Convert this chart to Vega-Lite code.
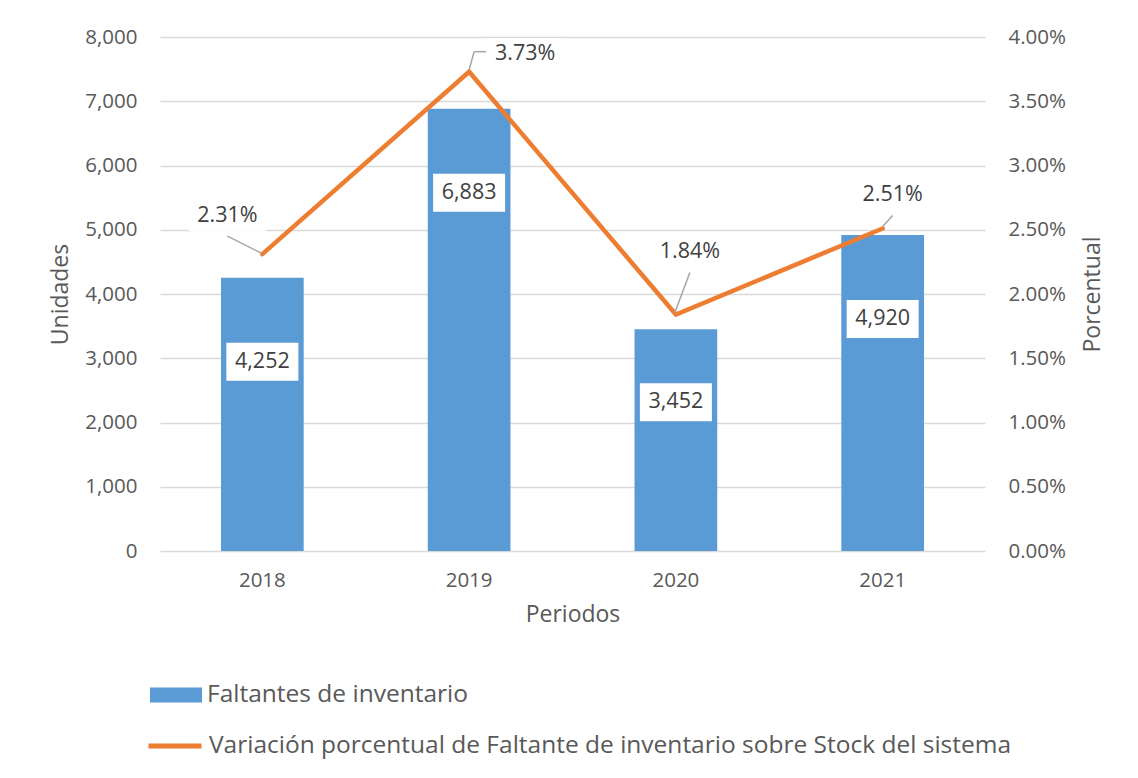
{
  "$schema": "https://vega.github.io/schema/vega-lite/v6.json",
  "autosize": {"type": "none"},
  "width": 825,
  "height": 514,
  "padding": {"left": 160, "top": 37, "right": 153, "bottom": 227},
  "background": "white",
  "config": {
    "view": {"stroke": null},
    "font": "Open Sans",
    "axis": {
      "labelFont": "Open Sans",
      "labelFontSize": 20.5,
      "labelColor": "#595959",
      "titleFont": "Open Sans",
      "titleFontSize": 23,
      "titleFontWeight": "normal",
      "titleColor": "#595959",
      "ticks": false,
      "domain": false,
      "gridColor": "#d9d9d9",
      "gridWidth": 1.5
    },
    "legend": {
      "labelFont": "Open Sans",
      "labelFontSize": 24.5,
      "labelColor": "#595959",
      "labelLimit": 1200,
      "padding": 0,
      "labelOffset": 5
    }
  },
  "data": {
    "values": [
      {"anio": "2018", "unidades": 4252, "pct": 0.0231},
      {"anio": "2019", "unidades": 6883, "pct": 0.0373},
      {"anio": "2020", "unidades": 3452, "pct": 0.0184},
      {"anio": "2021", "unidades": 4920, "pct": 0.0251}
    ]
  },
  "encoding": {
    "x": {
      "field": "anio",
      "type": "nominal",
      "scale": {"paddingInner": 0.6, "paddingOuter": 0.295},
      "axis": {"title": "Periodos", "labelAngle": 0, "labelPadding": 19, "titlePadding": 13, "grid": false}
    }
  },
  "layer": [
    {
      "encoding": {
        "y": {
          "field": "unidades",
          "type": "quantitative",
          "scale": {"domain": [0, 8000]},
          "axis": {"title": "Unidades", "orient": "left", "values": [0, 1000, 2000, 3000, 4000, 5000, 6000, 7000, 8000], "format": ",.0f", "labelPadding": 23, "titlePadding": 12, "grid": true}
        }
      },
      "layer": [
        {
          "mark": {"type": "bar"},
          "encoding": {
            "fill": {
              "datum": "Faltantes de inventario",
              "type": "nominal",
              "scale": {"range": ["#5B9BD5"]},
              "legend": {
                "title": null,
                "orient": "none",
                "legendX": -10,
                "legendY": 632,
                "symbolType": "M-1,-0.29L1,-0.29L1,0.29L-1,0.29Z",
                "symbolSize": 2704,
                "symbolStrokeWidth": 0
              }
            }
          }
        },
        {
          "transform": [{"filter": "datum.anio != '2020'"}],
          "layer": [
            {
              "mark": {"type": "point", "shape": "M-1,-0.528L1,-0.528L1,0.528L-1,0.528Z", "size": 5184, "filled": true, "fill": "white", "opacity": 1, "strokeWidth": 0, "yOffset": 84},
              "encoding": {}
            },
            {
              "mark": {"type": "text", "font": "Open Sans", "fontSize": 21.5, "color": "#404040", "dy": 84, "baseline": "middle", "align": "center"},
              "encoding": {"text": {"field": "unidades", "type": "quantitative", "format": ",.0f"}}
            }
          ]
        },
        {
          "transform": [{"filter": "datum.anio == '2020'"}],
          "layer": [
            {
              "mark": {"type": "point", "shape": "M-1,-0.528L1,-0.528L1,0.528L-1,0.528Z", "size": 5184, "filled": true, "fill": "white", "opacity": 1, "strokeWidth": 0, "yOffset": 73},
              "encoding": {}
            },
            {
              "mark": {"type": "text", "font": "Open Sans", "fontSize": 21.5, "color": "#404040", "dy": 73, "baseline": "middle", "align": "center"},
              "encoding": {"text": {"field": "unidades", "type": "quantitative", "format": ",.0f"}}
            }
          ]
        }
      ]
    },
    {
      "encoding": {
        "y": {
          "field": "pct",
          "type": "quantitative",
          "scale": {"domain": [0, 0.04]},
          "axis": {"title": "Porcentual", "orient": "right", "titleAngle": 270, "titleBaseline": "top", "values": [0, 0.005, 0.01, 0.015, 0.02, 0.025, 0.03, 0.035, 0.04], "format": ".2%", "labelPadding": 23, "titlePadding": 16, "grid": false}
        }
      },
      "layer": [
        {
          "mark": {"type": "line", "strokeWidth": 4.5, "strokeCap": "round", "strokeJoin": "miter"},
          "encoding": {
            "stroke": {
              "datum": "Variación porcentual de Faltante de inventario sobre Stock del sistema",
              "type": "nominal",
              "scale": {"range": ["#ED7D31"]},
              "legend": {
                "title": null,
                "orient": "none",
                "legendX": -14,
                "legendY": 680,
                "symbolType": "stroke",
                "symbolSize": 2809,
                "symbolStrokeWidth": 5
              }
            }
          }
        },
        {
          "transform": [{"filter": "datum.anio == '2018'"}],
          "layer": [
            {
              "mark": {"type": "rule", "color": "#a6a6a6", "strokeWidth": 1.5, "xOffset": -35, "yOffset": -18, "x2Offset": -1, "y2Offset": -1},
              "encoding": {"x2": {"field": "anio"}, "y2": {"field": "pct"}}
            },
            {
              "mark": {"type": "point", "shape": "M-1,-0.4L1,-0.4L1,0.4L-1,0.4Z", "size": 5929, "filled": true, "fill": "white", "opacity": 1, "strokeWidth": 0, "xOffset": -35, "yOffset": -38},
              "encoding": {}
            },
            {
              "mark": {"type": "text", "font": "Open Sans", "fontSize": 21.5, "color": "#404040", "dx": -35, "dy": -38, "baseline": "middle", "align": "center"},
              "encoding": {"text": {"field": "pct", "type": "quantitative", "format": ".2%"}}
            }
          ]
        },
        {
          "transform": [{"filter": "datum.anio == '2019'"}],
          "layer": [
            {
              "mark": {"type": "rule", "color": "#a6a6a6", "strokeWidth": 1.5, "xOffset": 0, "yOffset": -2, "x2Offset": 5, "y2Offset": -20},
              "encoding": {"x2": {"field": "anio"}, "y2": {"field": "pct"}}
            },
            {
              "mark": {"type": "rule", "color": "#a6a6a6", "strokeWidth": 1.5, "xOffset": 5, "yOffset": -20, "x2Offset": 17, "y2Offset": -20},
              "encoding": {"x2": {"field": "anio"}, "y2": {"field": "pct"}}
            },
            {
              "mark": {"type": "point", "shape": "M-1,-0.4L1,-0.4L1,0.4L-1,0.4Z", "size": 5929, "filled": true, "fill": "white", "opacity": 1, "strokeWidth": 0, "xOffset": 56, "yOffset": -18},
              "encoding": {}
            },
            {
              "mark": {"type": "text", "font": "Open Sans", "fontSize": 21.5, "color": "#404040", "dx": 56, "dy": -18, "baseline": "middle", "align": "center"},
              "encoding": {"text": {"field": "pct", "type": "quantitative", "format": ".2%"}}
            }
          ]
        },
        {
          "transform": [{"filter": "datum.anio == '2020'"}],
          "layer": [
            {
              "mark": {"type": "rule", "color": "#a6a6a6", "strokeWidth": 1.5, "xOffset": -1, "yOffset": -2, "x2Offset": 14, "y2Offset": -42},
              "encoding": {"x2": {"field": "anio"}, "y2": {"field": "pct"}}
            },
            {
              "mark": {"type": "point", "shape": "M-1,-0.4L1,-0.4L1,0.4L-1,0.4Z", "size": 5929, "filled": true, "fill": "white", "opacity": 1, "strokeWidth": 0, "xOffset": 14, "yOffset": -63},
              "encoding": {}
            },
            {
              "mark": {"type": "text", "font": "Open Sans", "fontSize": 21.5, "color": "#404040", "dx": 14, "dy": -63, "baseline": "middle", "align": "center"},
              "encoding": {"text": {"field": "pct", "type": "quantitative", "format": ".2%"}}
            }
          ]
        },
        {
          "transform": [{"filter": "datum.anio == '2021'"}],
          "layer": [
            {
              "mark": {"type": "rule", "color": "#a6a6a6", "strokeWidth": 1.5, "xOffset": 0, "yOffset": -2, "x2Offset": 10, "y2Offset": -13},
              "encoding": {"x2": {"field": "anio"}, "y2": {"field": "pct"}}
            },
            {
              "mark": {"type": "point", "shape": "M-1,-0.4L1,-0.4L1,0.4L-1,0.4Z", "size": 5929, "filled": true, "fill": "white", "opacity": 1, "strokeWidth": 0, "xOffset": 10, "yOffset": -33},
              "encoding": {}
            },
            {
              "mark": {"type": "text", "font": "Open Sans", "fontSize": 21.5, "color": "#404040", "dx": 10, "dy": -33, "baseline": "middle", "align": "center"},
              "encoding": {"text": {"field": "pct", "type": "quantitative", "format": ".2%"}}
            }
          ]
        }
      ]
    }
  ],
  "resolve": {"scale": {"y": "independent"}}
}
